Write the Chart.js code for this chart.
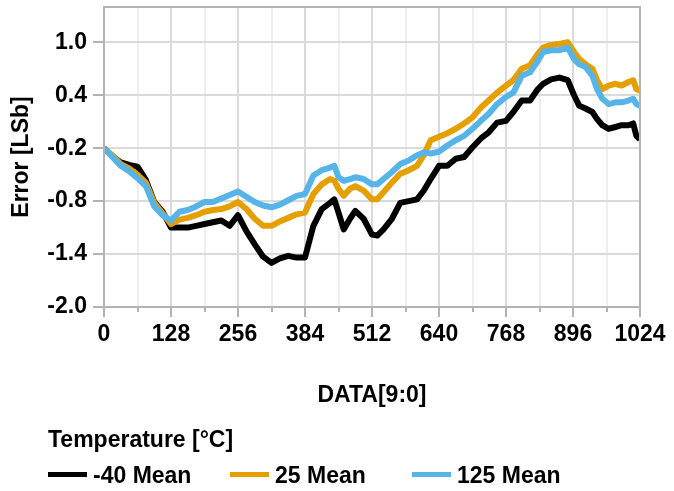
<!DOCTYPE html>
<html>
<head>
<meta charset="utf-8">
<script src="https://cdn.jsdelivr.net/npm/chart.js"></script>
<style>
  html, body { margin: 0; padding: 0; background: #fff; }
  #wrap { position: relative; width: 674px; height: 491px; }
  #legend { position: absolute; left: 0; top: 0; width: 674px; height: 491px; pointer-events: none;
            font-family: "Liberation Sans", Arial, sans-serif; font-weight: bold; font-size: 23px; color: #000; }
  #legendTitle { position: absolute; left: 48px; top: 426px; line-height: 27px; }
  .item { position: absolute; top: 462px; line-height: 27px; white-space: nowrap; }
  .swatch { display: inline-block; width: 39px; height: 5px; vertical-align: middle; margin-right: 6px; position: relative; top: -2px; }
</style>
</head>
<body>
<div id="wrap">
  <canvas id="myChart" width="674" height="491"></canvas>
  <div id="legend"><div id="legendTitle">Temperature [°C]</div></div>
</div>
<script>
const codes = [0, 16, 32, 48, 64, 80, 96, 112, 128, 144, 160, 176, 192, 208, 224, 240, 256, 272, 288, 304,
  320, 336, 352, 368, 384, 400, 416, 432, 440, 448, 458, 470, 480, 496, 512, 522, 534, 550, 566, 582,
  598, 611, 624, 640, 656, 672, 688, 704, 720, 735, 751, 768, 782, 798, 814, 829, 839, 854, 870, 886,
  898, 908, 920, 933, 942, 952, 964, 977, 989, 1002, 1011, 1017, 1024];

// error in LSb
const meanM40 = [-0.20, -0.29, -0.36, -0.39, -0.41, -0.56, -0.81, -0.92, -1.10, -1.10, -1.10, -1.08, -1.06, -1.04, -1.02, -1.08, -0.96, -1.14, -1.29, -1.43,
  -1.50, -1.45, -1.42, -1.44, -1.44, -1.08, -0.89, -0.82, -0.78, -0.93, -1.12, -1.00, -0.91, -1.00, -1.18, -1.19, -1.12, -1.00, -0.82, -0.80,
  -0.78, -0.68, -0.55, -0.40, -0.40, -0.32, -0.30, -0.19, -0.09, -0.02, 0.09, 0.11, 0.21, 0.34, 0.34, 0.47, 0.53, 0.58, 0.60, 0.57,
  0.40, 0.28, 0.25, 0.21, 0.13, 0.06, 0.02, 0.04, 0.06, 0.06, 0.08, -0.06, -0.10];
const mean25 = [-0.20, -0.28, -0.38, -0.43, -0.50, -0.59, -0.82, -0.94, -1.06, -1.01, -0.99, -0.96, -0.92, -0.90, -0.89, -0.86, -0.81, -0.89, -1.00, -1.08,
  -1.08, -1.03, -0.99, -0.95, -0.93, -0.72, -0.61, -0.55, -0.57, -0.66, -0.74, -0.66, -0.63, -0.68, -0.78, -0.78, -0.70, -0.59, -0.49, -0.45,
  -0.40, -0.28, -0.11, -0.07, -0.03, 0.02, 0.08, 0.15, 0.26, 0.34, 0.43, 0.51, 0.57, 0.70, 0.74, 0.87, 0.94, 0.97, 0.98, 1.00,
  0.89, 0.81, 0.75, 0.70, 0.57, 0.47, 0.51, 0.53, 0.51, 0.55, 0.57, 0.47, 0.45];
const mean125 = [-0.20, -0.30, -0.40, -0.46, -0.54, -0.63, -0.86, -0.96, -1.02, -0.92, -0.90, -0.86, -0.81, -0.81, -0.77, -0.73, -0.69, -0.75, -0.81, -0.85,
  -0.87, -0.84, -0.79, -0.74, -0.72, -0.51, -0.45, -0.42, -0.40, -0.53, -0.57, -0.55, -0.53, -0.55, -0.61, -0.61, -0.55, -0.47, -0.38, -0.34,
  -0.28, -0.25, -0.26, -0.24, -0.17, -0.11, -0.06, 0.02, 0.11, 0.19, 0.30, 0.38, 0.43, 0.62, 0.66, 0.79, 0.89, 0.91, 0.91, 0.94,
  0.81, 0.75, 0.72, 0.62, 0.47, 0.36, 0.30, 0.32, 0.32, 0.34, 0.36, 0.30, 0.28];

const seriesNames = ['-40 Mean', '25 Mean', '125 Mean'];
const seriesColors = ['#000000', '#E69F00', '#56B4E9'];

const xTicks = [0, 128, 256, 384, 512, 640, 768, 896, 1024];
const xMinorTicks = [64, 192, 320, 448, 576, 704, 832, 960];
const yTicks = [-2.0, -1.4, -0.8, -0.2, 0.4, 1.0];

const axisGray = '#b3b3b3';
const gridMajor = '#dadada';
const gridMinor = '#eeeeee';

function toPoints(vals) {
  return codes.map((c, i) => ({ x: c, y: vals[i] }));
}

// box around the plot + short minor tick marks on the x axis
const frame = {
  id: 'frame',
  afterDraw(chart) {
    const { ctx, chartArea: a } = chart;
    const xs = chart.scales.x;
    ctx.save();
    ctx.strokeStyle = axisGray;
    ctx.lineWidth = 2;
    ctx.strokeRect(a.left, a.top, a.right - a.left, a.bottom - a.top);
    ctx.beginPath();
    xMinorTicks.forEach((v) => {
      const px = Math.round(xs.getPixelForValue(v));
      ctx.moveTo(px, a.bottom);
      ctx.lineTo(px, a.bottom + 5);
    });
    ctx.stroke();
    ctx.restore();
  }
};

Chart.defaults.font.family = '"Liberation Sans", Arial, sans-serif';
Chart.defaults.font.weight = 'bold';
Chart.defaults.font.size = 23;
Chart.defaults.color = '#000';

const datasets = [meanM40, mean25, mean125].map((vals, i) => ({
  label: seriesNames[i],
  data: toPoints(vals),
  borderColor: seriesColors[i],
  backgroundColor: seriesColors[i],
  borderWidth: 6,
  borderJoinStyle: 'round',
  pointRadius: 0,
  tension: 0,
  order: 2 - i
}));

const ctx = document.getElementById('myChart').getContext('2d');
const myChart = new Chart(ctx, {
  type: 'line',
  data: { datasets: datasets },
  options: {
    responsive: false,
    animation: false,
    layout: { padding: { left: 8, top: 7, right: 34, bottom: 71 } },
    plugins: { legend: { display: false }, tooltip: { enabled: false } },
    scales: {
      x: {
        type: 'linear',
        min: 0,
        max: 1024,
        afterBuildTicks: (scale) => {
          scale.ticks = xTicks.concat(xMinorTicks).sort((a, b) => a - b).map((v) => ({ value: v }));
        },
        afterFit: (scale) => {
          scale.height = 113;
          scale.paddingLeft = 0;
          scale.paddingRight = 0;
        },
        ticks: {
          padding: 4,
          maxRotation: 0,
          autoSkip: false,
          callback: (v) => (xTicks.includes(v) ? String(v) : '')
        },
        grid: {
          color: (c) => (c.tick && xTicks.includes(c.tick.value) ? gridMajor : gridMinor),
          lineWidth: 2,
          tickLength: 10,
          tickColor: (c) => (c.tick && xTicks.includes(c.tick.value) ? axisGray : 'rgba(0,0,0,0)'),
          tickWidth: 2
        },
        border: { color: axisGray, width: 2 },
        title: { display: true, text: 'DATA[9:0]', padding: { top: 0, bottom: 11 } }
      },
      y: {
        min: -2.0,
        max: 1.4,
        afterBuildTicks: (scale) => {
          scale.ticks = yTicks.map((v) => ({ value: v }));
        },
        afterFit: (scale) => {
          scale.width = 96;
          scale.paddingTop = 0;
          scale.paddingBottom = 0;
        },
        ticks: {
          padding: 6,
          callback: (v) => v.toFixed(1)
        },
        grid: { color: gridMajor, lineWidth: 2, tickLength: 11, tickColor: axisGray, tickWidth: 2 },
        border: { color: axisGray, width: 2 },
        title: { display: true, text: 'Error [LSb]', padding: { top: 0, bottom: 0 } }
      }
    }
  },
  plugins: [frame]
});

// legend below the chart
const legendBox = document.getElementById('legend');
const itemLeft = [48, 230, 412];
seriesNames.forEach((name, i) => {
  const item = document.createElement('div');
  item.className = 'item';
  item.style.left = itemLeft[i] + 'px';
  item.innerHTML = `<span class="swatch" style="background:${seriesColors[i]}"></span>${name}`;
  legendBox.appendChild(item);
});
</script>
</body>
</html>
